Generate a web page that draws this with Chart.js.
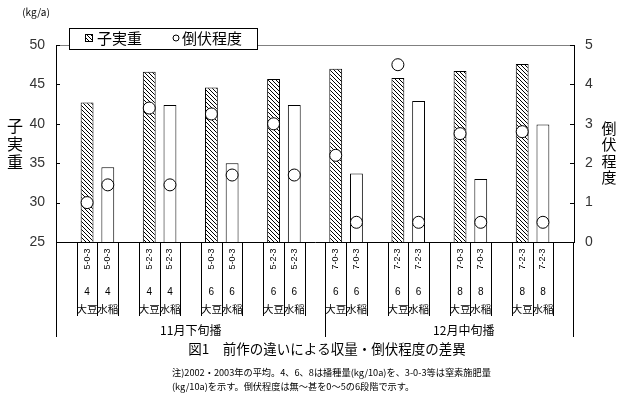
<!DOCTYPE html>
<html lang="ja">
<head>
<meta charset="utf-8">
<title>図1 前作の違いによる収量・倒伏程度の差異</title>
<script src="https://cdn.jsdelivr.net/npm/chart.js@4.4.1/dist/chart.umd.min.js"></script>
<style>
  html, body { margin: 0; padding: 0; background: #fff; }
  #wrap { position: relative; width: 621px; height: 397px; }
</style>
</head>
<body>
<div id="wrap"><canvas id="chart" width="621" height="397"></canvas></div>
<script>
// Data (16 bars: soybean / rice pairs)
const fertilizer = ['5-0-3', '5-0-3', '5-2-3', '5-2-3', '5-0-3', '5-0-3', '5-2-3', '5-2-3',
                    '7-0-3', '7-0-3', '7-2-3', '7-2-3', '7-0-3', '7-0-3', '7-2-3', '7-2-3'];
const seedRate = ['4', '4', '4', '4', '6', '6', '6', '6', '6', '6', '6', '6', '8', '8', '8', '8'];
const crops = ['大豆', '水稲', '大豆', '水稲', '大豆', '水稲', '大豆', '水稲',
               '大豆', '水稲', '大豆', '水稲', '大豆', '水稲', '大豆', '水稲'];
const grainWeight = [42.7, 34.5, 46.6, 42.4, 44.6, 35.0, 45.7, 42.4,
                     47.0, 33.7, 45.8, 42.9, 46.7, 33.0, 47.6, 39.9];
const lodging = [1.0, 1.45, 3.4, 1.45, 3.25, 1.7, 3.0, 1.7,
                 2.2, 0.5, 4.5, 0.5, 2.75, 0.5, 2.8, 0.5];
const sowingGroups = ['11月下旬播', '12月中旬播'];
const leftTicks = [25, 30, 35, 40, 45, 50];
const rightTicks = [0, 1, 2, 3, 4, 5];

const JP = '"Noto Sans CJK JP", "Noto Sans", sans-serif';
const NUM = '"Liberation Sans", Arial, sans-serif';

// each pair gets an empty slot in front of it, plus one at the end
const slotCount = crops.length / 2 * 3 + 1;
function slotOf(i) { return 1 + Math.floor(i / 2) * 3 + (i % 2); }

const labels = new Array(slotCount).fill('');
const barData = new Array(slotCount).fill(null);
const lodgeData = new Array(slotCount).fill(null);
const barColors = new Array(slotCount).fill('#fff');

function makeHatch() {
    const c = document.createElement('canvas');
    c.width = 4; c.height = 4;
    const g = c.getContext('2d');
    g.fillStyle = '#fff';
    g.fillRect(0, 0, 4, 4);
    g.fillStyle = '#000';
    for (let k = 0; k < 4; k++) g.fillRect(k, k, 1, 1);
    return g.createPattern(c, 'repeat');
}
const hatch = makeHatch();

crops.forEach((crop, i) => {
    const s = slotOf(i);
    labels[s] = fertilizer[i];
    barData[s] = grainWeight[i];
    lodgeData[s] = lodging[i];
    barColors[s] = crop === '大豆' ? hatch : '#fff';
});

// Annotations around the plot
const decorPlugin = {
    id: 'decor',
    afterDraw(chart) {
        const { ctx, chartArea: a, scales } = chart;
        const x = scales.x, y = scales.y, y2 = scales.y2;
        const step = x.getPixelForValue(1) - x.getPixelForValue(0);
        ctx.save();

        // top frame line
        ctx.strokeStyle = '#808080';
        ctx.lineWidth = 1;
        ctx.beginPath();
        ctx.moveTo(a.left, a.top + 0.5);
        ctx.lineTo(a.right, a.top + 0.5);
        ctx.stroke();

        // inward tick marks
        ctx.strokeStyle = '#000';
        ctx.beginPath();
        leftTicks.forEach(v => {
            const py = Math.round(y.getPixelForValue(v)) + 0.5;
            ctx.moveTo(a.left, py); ctx.lineTo(a.left + 4, py);
        });
        rightTicks.forEach(v => {
            const py = Math.round(y2.getPixelForValue(v)) + 0.5;
            ctx.moveTo(a.right, py); ctx.lineTo(a.right - 4, py);
        });
        ctx.stroke();

        // category boxes under the axis
        ctx.fillStyle = '#000';
        ctx.textAlign = 'center';
        ctx.textBaseline = 'middle';
        ctx.beginPath();
        crops.forEach((crop, i) => {
            const cx = x.getPixelForValue(slotOf(i));
            const l = Math.round(cx - step / 2) + 0.5;
            const r = Math.round(cx + step / 2) + 0.5;
            ctx.moveTo(l, a.bottom); ctx.lineTo(l, a.bottom + 74);
            ctx.moveTo(r, a.bottom); ctx.lineTo(r, a.bottom + 74);

            ctx.save();
            ctx.translate(cx, a.bottom + 17);
            ctx.rotate(-Math.PI / 2);
            ctx.font = '9px ' + NUM;
            ctx.fillText(fertilizer[i], 0, 0);
            ctx.restore();

            ctx.font = '10px ' + NUM;
            ctx.fillText(seedRate[i], cx, a.bottom + 50);
            ctx.font = '10.5px ' + JP;
            ctx.fillText(crop, cx, a.bottom + 67);
        });
        const divider = Math.round(x.getPixelForValue(slotCount / 2) ) + 0.5;
        [a.left + 0.5, divider, a.right - 0.5].forEach(px => {
            ctx.moveTo(px, a.bottom); ctx.lineTo(px, a.bottom + 95);
        });
        ctx.stroke();

        ctx.font = '12px ' + JP;
        ctx.fillText(sowingGroups[0], (a.left + divider) / 2, a.bottom + 88);
        ctx.fillText(sowingGroups[1], (divider + a.right) / 2 + 14, a.bottom + 88);

        // axis titles
        ctx.font = '16px ' + JP;
        ['子', '実', '重'].forEach((ch, k) => ctx.fillText(ch, 15, 126 + k * 18));
        ctx.font = '15px ' + JP;
        ['倒', '伏', '程', '度'].forEach((ch, k) => ctx.fillText(ch, 609, 128 + k * 16.5));
        ctx.font = '10px ' + JP;
        ctx.fillText('(kg/a)', 36, 12);

        // legend
        ctx.fillStyle = '#fff';
        ctx.fillRect(69, 28, 188, 21);
        ctx.strokeRect(69.5, 28.5, 188, 21);
        ctx.fillStyle = hatch;
        ctx.fillRect(85, 34, 8, 8);
        ctx.strokeRect(85.5, 34.5, 7, 7);
        ctx.fillStyle = '#000';
        ctx.textAlign = 'left';
        ctx.font = '15px ' + JP;
        ctx.fillText('子実重', 97, 38.5);
        ctx.fillText('倒伏程度', 182, 38.5);
        ctx.beginPath();
        ctx.fillStyle = '#fff';
        ctx.arc(176, 38, 3, 0, Math.PI * 2);
        ctx.fill();
        ctx.stroke();

        // caption and note
        ctx.fillStyle = '#000';
        ctx.textAlign = 'center';
        ctx.font = '13.5px ' + JP;
        ctx.fillText('図1　前作の違いによる収量・倒伏程度の差異', 327, 349);
        ctx.textAlign = 'left';
        ctx.font = '9.2px ' + JP;
        ctx.fillText('注)2002・2003年の平均。4、6、8は播種量(kg/10a)を、3-0-3等は窒素施肥量', 172, 373);
        ctx.fillText('(kg/10a)を示す。倒伏程度は無～甚を0～5の6段階で示す。', 172, 387);

        ctx.restore();
    }
};

new Chart(document.getElementById('chart'), {
    data: {
        labels: labels,
        datasets: [
            {
                type: 'line',
                label: '倒伏程度',
                data: lodgeData,
                yAxisID: 'y2',
                showLine: false,
                pointRadius: 6,
                pointBackgroundColor: '#fff',
                pointBorderColor: '#000',
                pointBorderWidth: 1,
                order: 0
            },
            {
                type: 'bar',
                label: '子実重',
                data: barData,
                yAxisID: 'y',
                backgroundColor: barColors,
                borderColor: '#000',
                borderWidth: 1,
                borderSkipped: 'start',
                barPercentage: 0.62,
                categoryPercentage: 1,
                order: 1
            }
        ]
    },
    options: {
        responsive: false,
        animation: false,
        devicePixelRatio: 1,
        layout: { padding: { top: 45, left: 0, right: 0, bottom: 0 } },
        plugins: { legend: { display: false }, tooltip: { enabled: false } },
        scales: {
            x: {
                type: 'category',
                offset: true,
                grid: { display: false, drawTicks: false },
                border: { color: '#000', width: 1 },
                ticks: { display: false },
                afterFit: s => { s.height = 155; }
            },
            y: {
                position: 'left',
                min: 25, max: 50,
                grid: { display: false, drawTicks: false },
                border: { color: '#000', width: 1 },
                ticks: { stepSize: 5, padding: 11, color: '#333', font: { family: NUM, size: 14 } },
                afterFit: s => { s.width = 56; }
            },
            y2: {
                position: 'right',
                min: 0, max: 5,
                grid: { display: false, drawTicks: false },
                border: { color: '#000', width: 1 },
                ticks: { stepSize: 1, padding: 11, color: '#333', font: { family: NUM, size: 14 } },
                afterFit: s => { s.width = 47; }
            }
        }
    },
    plugins: [decorPlugin]
});
</script>
</body>
</html>
